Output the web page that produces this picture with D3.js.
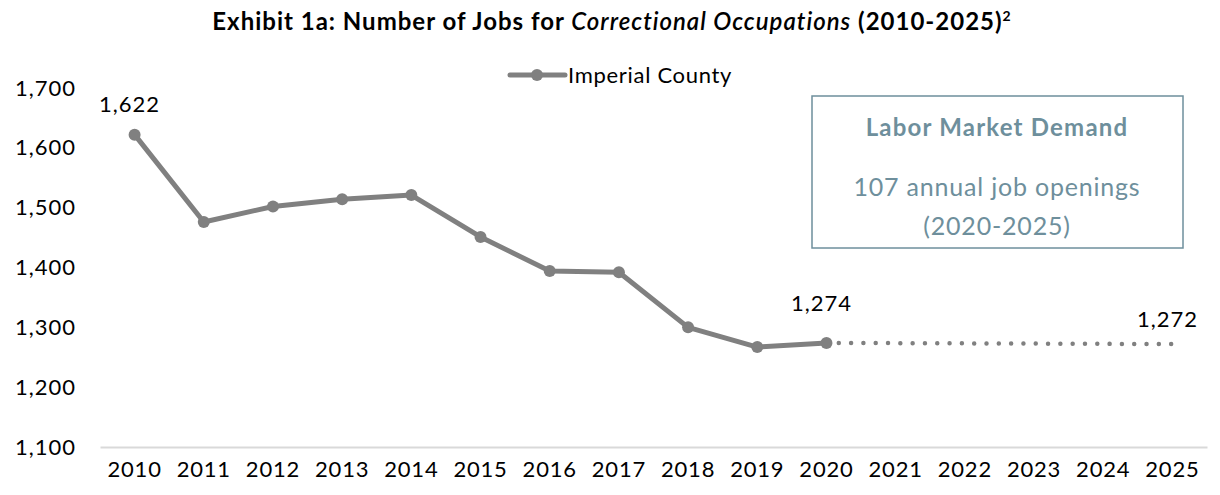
<!DOCTYPE html>
<html>
<head>
<meta charset="utf-8">
<script src="https://cdn.jsdelivr.net/npm/d3@7"></script>
<style>
  body { margin: 0; background: #fff; }
  svg { font-family: "Lato", "DejaVu Sans", sans-serif; }
</style>
</head>
<body>
<script>
//Width and height
var w = 1220;
var h = 495;

//Data
var years = ["2010", "2011", "2012", "2013", "2014", "2015", "2016", "2017",
             "2018", "2019", "2020", "2021", "2022", "2023", "2024", "2025"];
var actualYears = ["2010", "2011", "2012", "2013", "2014", "2015", "2016",
                   "2017", "2018", "2019", "2020"];
var actualJobs = [1622, 1476, 1502, 1514, 1521, 1451, 1394, 1392, 1300, 1267, 1274];
var projYears = ["2020", "2025"];
var projJobs = [1274, 1272];
var yTicks = [1100, 1200, 1300, 1400, 1500, 1600, 1700];
var seriesName = "Imperial County";

var actual = actualYears.map(function(y, i) { return { year: y, value: actualJobs[i] }; });
var proj = projYears.map(function(y, i) { return { year: y, value: projJobs[i] }; });

var lineColor = "#808080";
var boxColor = "#6e8f9c";

//Scales
var xScale = d3.scaleBand()
    .domain(years)
    .range([100, 1207]);

var yScale = d3.scaleLinear()
    .domain([1100, 1700])
    .range([447, 88]);

var xc = function(y) { return xScale(y) + xScale.bandwidth() / 2; };

//Create SVG element
var svg = d3.select("body")
    .append("svg")
    .attr("width", w)
    .attr("height", h);

//Title
var title = svg.append("text")
    .attr("x", 612)
    .attr("y", 30)
    .attr("text-anchor", "middle")
    .attr("font-size", 24)
    .attr("letter-spacing", 1)
    .attr("font-weight", "bold")
    .attr("fill", "#000");
title.append("tspan").text("Exhibit 1a: Number of Jobs for ");
title.append("tspan").attr("font-style", "italic").attr("font-weight", "600").text("Correctional Occupations");
title.append("tspan").text(" (2010-2025)");
title.append("tspan").attr("font-size", 14).attr("dy", -9).text("2");

//Y axis (labels only)
var yAxis = d3.axisLeft(yScale)
    .tickValues(yTicks)
    .tickFormat(d3.format(","))
    .tickSize(0)
    .tickPadding(0);

svg.append("g")
    .attr("class", "axis")
    .attr("transform", "translate(76,0)")
    .call(yAxis)
    .call(function(g) { g.select(".domain").remove(); })
    .selectAll("text")
    .attr("font-size", 22)
    .attr("letter-spacing", 1)
    .attr("font-family", "Lato, sans-serif")
    .attr("fill", "#000");

//X axis
var xAxis = d3.axisBottom(xScale)
    .tickSize(0)
    .tickPadding(14);

var gx = svg.append("g")
    .attr("class", "axis")
    .attr("transform", "translate(0," + yScale(1100) + ")")
    .call(xAxis);
gx.select(".domain")
    .attr("stroke", "#d9d9d9")
    .attr("stroke-width", 2);
gx.selectAll("text")
    .attr("font-size", 22)
    .attr("letter-spacing", 0.8)
    .attr("font-family", "Lato, sans-serif")
    .attr("fill", "#000");

//Lines
var line = d3.line()
    .x(function(d) { return xc(d.year); })
    .y(function(d) { return yScale(d.value); });

svg.append("path")
    .datum(proj)
    .attr("d", line)
    .attr("fill", "none")
    .attr("stroke", lineColor)
    .attr("stroke-width", 4.5)
    .attr("stroke-linecap", "round")
    .attr("stroke-dasharray", "0.01 12.3");

svg.append("path")
    .datum(actual)
    .attr("d", line)
    .attr("fill", "none")
    .attr("stroke", lineColor)
    .attr("stroke-width", 5)
    .attr("stroke-linejoin", "round");

svg.selectAll("circle.pt")
    .data(actual)
    .enter()
    .append("circle")
    .attr("class", "pt")
    .attr("cx", function(d) { return xc(d.year); })
    .attr("cy", function(d) { return yScale(d.value); })
    .attr("r", 6)
    .attr("fill", lineColor);

//Data labels (offsets above the point, as placed in the original)
var labelled = [actual[0], actual[actual.length - 1], proj[proj.length - 1]];
var labelDy = [-23, -32, -17];
svg.selectAll("text.lbl")
    .data(labelled)
    .enter()
    .append("text")
    .attr("class", "lbl")
    .attr("x", function(d) { return xc(d.year) - 5; })
    .attr("y", function(d, i) { return yScale(d.value) + labelDy[i]; })
    .attr("text-anchor", "middle")
    .attr("font-size", 22)
    .attr("letter-spacing", 1)
    .attr("fill", "#000")
    .text(function(d) { return d3.format(",")(d.value); });

//Legend
var lg = svg.append("g").attr("transform", "translate(510,75)");
lg.append("line")
    .attr("x1", 0).attr("x2", 55)
    .attr("stroke", lineColor)
    .attr("stroke-width", 5)
    .attr("stroke-linecap", "round");
lg.append("circle")
    .attr("cx", 27)
    .attr("r", 6)
    .attr("fill", lineColor);
lg.append("text")
    .attr("x", 58)
    .attr("y", 8)
    .attr("font-size", 22)
    .attr("letter-spacing", 0.7)
    .attr("fill", "#000")
    .text(seriesName);

//Labor market box
var box = svg.append("g");
box.append("rect")
    .attr("x", 812)
    .attr("y", 96)
    .attr("width", 371)
    .attr("height", 152)
    .attr("fill", "#fff")
    .attr("stroke", boxColor)
    .attr("stroke-width", 1.5);
box.append("text")
    .attr("x", 997)
    .attr("y", 136)
    .attr("text-anchor", "middle")
    .attr("font-size", 24)
    .attr("letter-spacing", 1.2)
    .attr("font-weight", "bold")
    .attr("fill", boxColor)
    .text("Labor Market Demand");
box.append("text")
    .attr("x", 997)
    .attr("y", 196)
    .attr("text-anchor", "middle")
    .attr("font-size", 25)
    .attr("letter-spacing", 0.8)
    .attr("fill", boxColor)
    .text("107 annual job openings");
box.append("text")
    .attr("x", 997)
    .attr("y", 235)
    .attr("text-anchor", "middle")
    .attr("font-size", 25)
    .attr("letter-spacing", 0.8)
    .attr("fill", boxColor)
    .text("(2020-2025)");
</script>
</body>
</html>
